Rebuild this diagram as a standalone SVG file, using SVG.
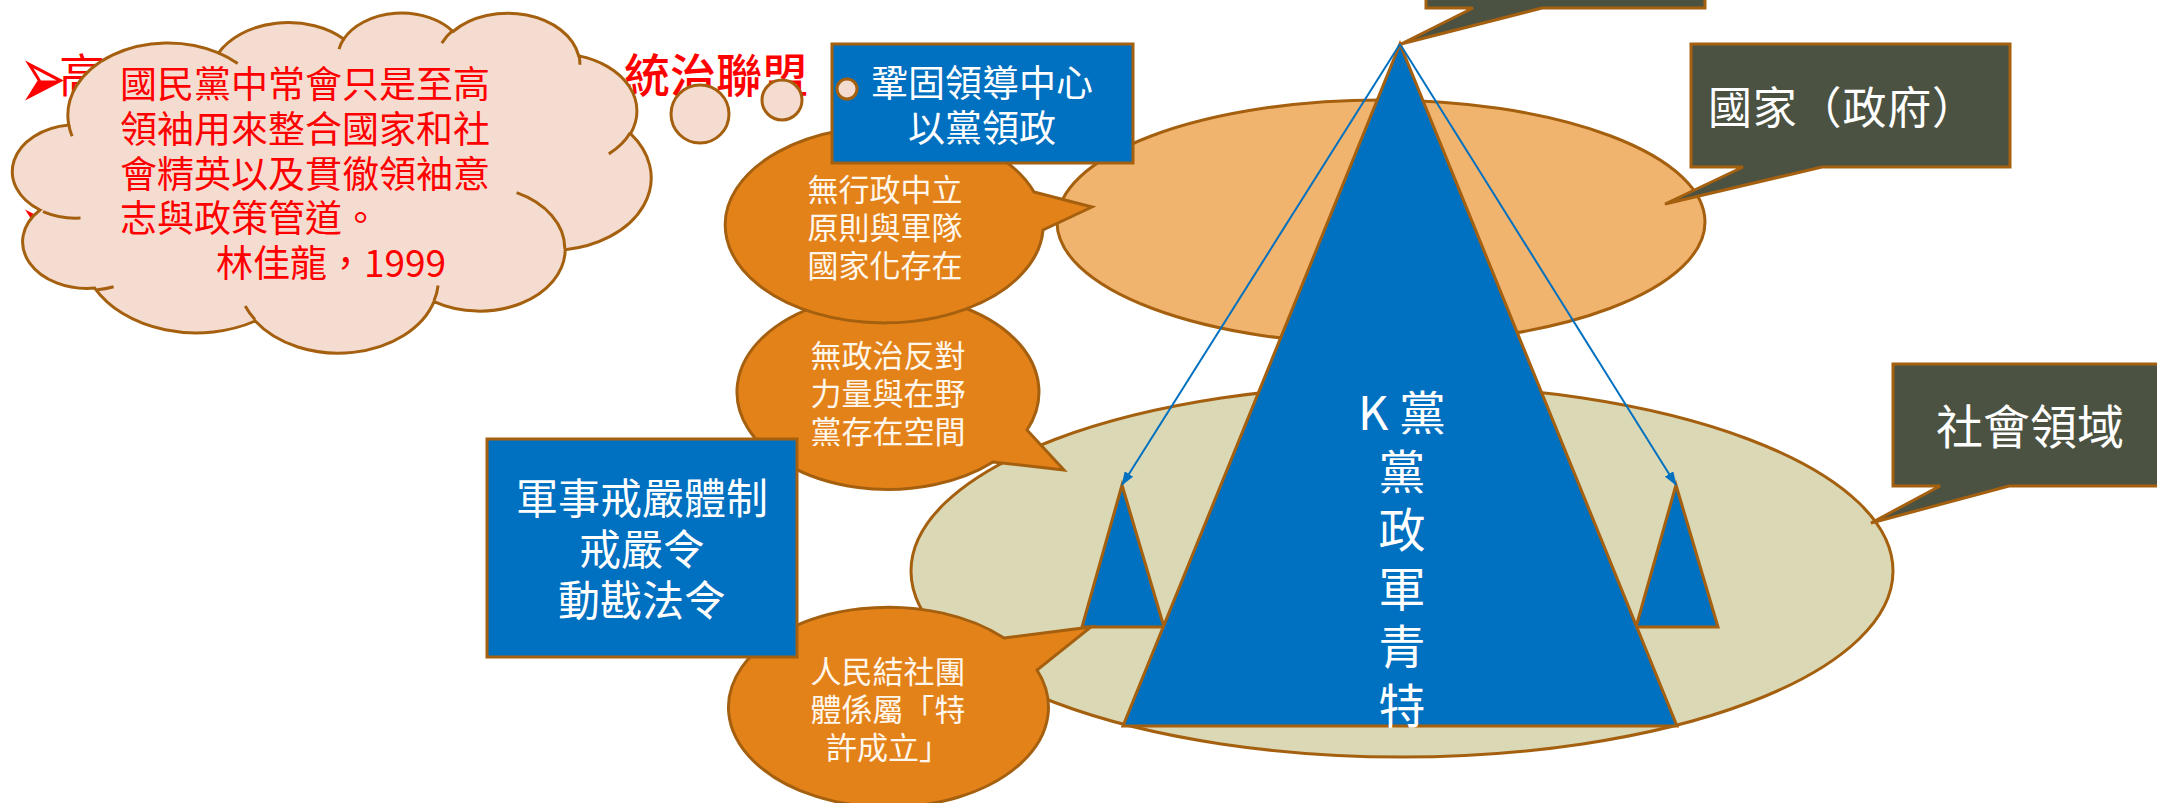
<svg xmlns="http://www.w3.org/2000/svg" width="2157" height="803" viewBox="0 0 2157 803">
<defs>
<style>
.ol{stroke:#A5600F;stroke-width:3;stroke-linejoin:miter}
.blue{fill:#0070C0}
.dark{fill:#4B5242}
.bub{fill:#E4821A}
.t{font-family:'Noto Sans CJK TC','Noto Sans CJK SC',sans-serif}
.w{fill:#FFFFFF}
.cw{fill:#FFF7EC}
.red{fill:#FF0000}
.mid{text-anchor:middle}
.conn{stroke:#0070C0;stroke-width:2;fill:none}
.cl{fill:#F5DCD0;stroke:#A5600F;stroke-width:3}
.bul{font-family:'DejaVu Sans',sans-serif;font-size:57px;fill:#FF0000}
</style>
<marker id="ah" markerUnits="userSpaceOnUse" markerWidth="14" markerHeight="10" refX="13" refY="5" orient="auto"><path d="M0,0 L14,5 L0,10 z" fill="#0070C0"/></marker>
</defs>
<rect width="2157" height="803" fill="#FFFFFF"/>

<g id="society">
<ellipse class="ol" cx="1402" cy="571" rx="491" ry="186" fill="#DAD8B5"/>
</g>
<g id="state">
<ellipse class="ol" cx="1381" cy="222" rx="324" ry="122" fill="#F1B46E"/>
</g>
<g id="small-left">
<path class="ol blue" d="M1122,485 L1164,627 L1082,627 Z"/>
</g>
<g id="small-right">
<path class="ol blue" d="M1676,485 L1718,627 L1636,627 Z"/>
</g>
<g id="party">
<path class="ol blue" d="M1400,44 L1677,726 L1123,726 Z"/>
<g class="t w" font-size="47">
<text x="1358" y="430">K<tspan x="1399">黨</tspan></text>
<text class="mid" x="1402" y="489">黨</text>
<text class="mid" x="1402" y="547">政</text>
<text class="mid" x="1402" y="606">軍</text>
<text class="mid" x="1402" y="664">青</text>
<text class="mid" x="1402" y="723">特</text>
</g>
</g>

<g id="connectors">
<line class="conn" x1="1400" y1="44" x2="1122" y2="485" marker-end="url(#ah)"/>
<line class="conn" x1="1400" y1="44" x2="1676" y2="485" marker-end="url(#ah)"/>
</g>

<g id="callout-top">
<path class="ol dark" d="M1426,-20 H1705 V8 H1542 L1401,44 L1473,8 H1426 Z"/>
</g>
<g id="callout-state">
<path class="ol dark" d="M1691,44 H2010 V167 H1822 L1665,204 L1743,167 H1691 Z"/>
<text class="t w" x="1708" y="124" font-size="44" textLength="268" lengthAdjust="spacing">國家（政府）</text>
</g>
<g id="callout-society">
<path class="ol dark" d="M1893,364 H2172 V486 H2009 L1871,523 L1940,486 H1893 Z"/>
<text class="t w" x="1936" y="444" font-size="47">社會領域</text>
</g>

<g id="bubble-opposition">
<path class="ol bub" d="M1027,430 L1064,470 L993,462 A151,97.5 0 1 1 1027,430 Z"/>
<g class="t cw mid" font-size="31">
<text x="888" y="367">無政治反對</text>
<text x="888" y="405">力量與在野</text>
<text x="888" y="443">黨存在空間</text>
</g>
</g>
<g id="bubble-association">
<path class="ol bub" d="M1004,638 L1091,627 L1037,670 A160,100 0 1 1 1004,638 Z"/>
<g class="t cw mid" font-size="31">
<text x="888" y="683">人民結社團</text>
<text x="888" y="721">體係屬「特</text>
<text x="888" y="759">許成立」</text>
</g>
</g>
<g id="bubble-neutral">
<path class="ol bub" d="M1034,192 L1092,207 L1043,230 A159,98 0 1 1 1034,192 Z"/>
<g class="t cw mid" font-size="31">
<text x="885" y="201">無行政中立</text>
<text x="885" y="239">原則與軍隊</text>
<text x="885" y="277">國家化存在</text>
</g>
</g>

<g id="box-leadership">
<rect class="ol blue" x="832" y="44" width="301" height="119"/>
<g class="t w mid" font-size="37">
<text x="982" y="97">鞏固領導中心</text>
<text x="982" y="142">以黨領政</text>
</g>
</g>
<g id="box-martial">
<rect class="ol blue" x="487" y="439" width="310" height="218"/>
<g class="t w mid" font-size="42">
<text x="642" y="514">軍事戒嚴體制</text>
<text x="642" y="565">戒嚴令</text>
<text x="642" y="616">動戡法令</text>
</g>
</g>

<g id="title">
<text class="bul" transform="translate(18.7,108.7) scale(1,1.6)">➢</text>
<text x="59" y="92" font-size="46" class="t red">高</text>
<text x="624" y="92" font-size="46" font-weight="500" class="t red">統治聯盟</text>
<text class="bul" transform="translate(18.7,257.7) scale(1,1.6)">➢</text>
</g>

<g id="cloud">
<path class="cl" d="M68.8,125.1 A100,72.3 0 0 1 218.5,52.9 A79,57.2 0 0 1 343.7,39 A64.7,46.8 0 0 1 453,31.5 A72,51.9 0 0 1 578.7,55.9 A79,57.2 0 0 1 630.5,133.7 A100.4,72.6 0 0 1 565.2,249.7 A85.7,61.9 0 0 1 434,301.7 A100,72.5 0 0 1 255.2,321 A114.4,83 0 0 1 94.7,288.1 A64.6,46.6 0 0 1 40,210 A64.4,46.8 0 0 1 68.8,125.1 Z"/>
<path fill="none" stroke="#A5600F" stroke-width="3" d="M80.5,218 A64.4,46.8 0 0 1 43,211.7 M113.6,286.7 A64.6,46.6 0 0 1 97.2,289.7 M255.1,319.7 A100,72.5 0 0 1 245.2,306 M438.1,285.5 A100,72.5 0 0 1 434.1,300.5 M516.6,192.7 A85.7,61.9 0 0 1 564.8,248.8 M630.2,132.8 A79,57.2 0 0 1 608.8,153.9 M578.8,54.7 A72,51.9 0 0 1 579.9,64.7 M441.8,43.1 A72,51.9 0 0 1 452.8,30.4 M339,49.1 A64.7,46.8 0 0 1 344.3,38.2 M218.4,52.9 A100,72.3 0 0 1 237.7,63.5 M72.1,136.3 A100,72.3 0 0 1 68.8,125.1"/>
<ellipse class="cl" cx="700" cy="114" rx="29" ry="29"/>
<ellipse class="cl" cx="782" cy="100" rx="20" ry="20"/>
<ellipse class="cl" cx="847" cy="89" rx="10" ry="10"/>
<g class="t red" font-size="37">
<text x="120" y="98">國民黨中常會只是至高</text>
<text x="120" y="143">領袖用來整合國家和社</text>
<text x="120" y="188">會精英以及貫徹領袖意</text>
<text x="120" y="232">志與政策管道。</text>
<text x="216" y="277">林佳龍，1999</text>
</g>
</g>
</svg>
